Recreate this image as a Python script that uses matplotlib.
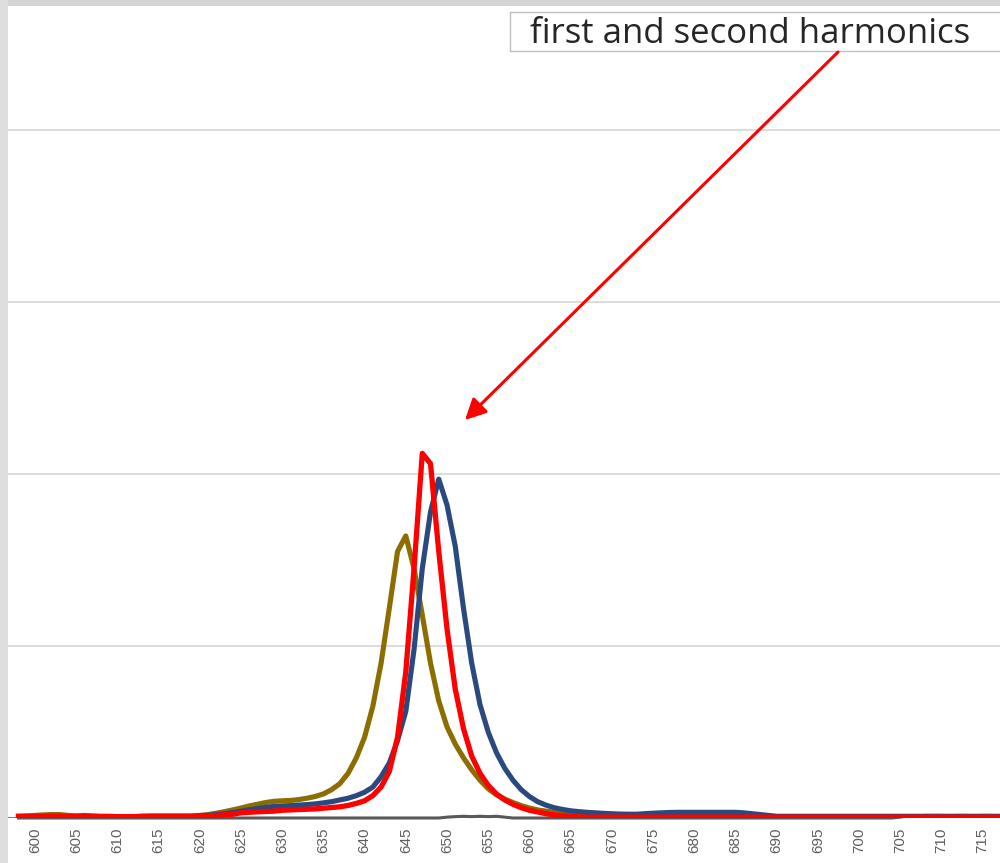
import matplotlib
matplotlib.use("Agg")
import matplotlib.pyplot as plt
from matplotlib.patches import Rectangle, FancyArrowPatch

# wavelength (nm), 1 nm steps
wavelength = list(range(598, 719))

# ---- series values (gridline units) ----
olive = [
    0.010, 0.012, 0.015, 0.018, 0.020, 0.020, 0.015, 0.012, 0.015, 0.012,   # 598-607
    0.008, 0.008, 0.008, 0.008, 0.008, 0.010, 0.012, 0.012, 0.012, 0.012,   # 608-617
    0.012, 0.012, 0.015, 0.020, 0.028, 0.037, 0.047, 0.058, 0.070, 0.080,   # 618-627
    0.090, 0.097, 0.100, 0.102, 0.107, 0.115, 0.125, 0.140, 0.165, 0.200,   # 628-637
    0.260, 0.350, 0.470, 0.650, 0.900, 1.220, 1.550, 1.640, 1.450, 1.180,   # 638-647
    0.900, 0.680, 0.530, 0.430, 0.350, 0.280, 0.220, 0.170, 0.135, 0.110,   # 648-657
    0.090, 0.072, 0.058, 0.047, 0.040, 0.033, 0.027, 0.022, 0.018, 0.015,   # 658-667
    0.010, 0.010, 0.010, 0.010, 0.010, 0.010, 0.010, 0.010, 0.010, 0.010,   # 668-677
    0.010, 0.010, 0.010, 0.010, 0.010, 0.010, 0.010, 0.010, 0.008, 0.008,   # 678-687
    0.008, 0.008, 0.008, 0.008, 0.008, 0.008, 0.008, 0.008, 0.008, 0.008,   # 688-697
    0.008, 0.008, 0.008, 0.008, 0.008, 0.008, 0.008, 0.008, 0.008, 0.008,   # 698-707
    0.008, 0.008, 0.008, 0.008, 0.008, 0.008, 0.008, 0.008, 0.008, 0.008,   # 708-717
    0.008,                                                                  # 718
]
blue = [
    0.010, 0.010, 0.010, 0.010, 0.010, 0.010, 0.010, 0.010, 0.010, 0.010,   # 598-607
    0.010, 0.010, 0.008, 0.008, 0.008, 0.010, 0.010, 0.010, 0.010, 0.010,   # 608-617
    0.010, 0.010, 0.012, 0.015, 0.020, 0.025, 0.032, 0.040, 0.048, 0.055,   # 618-627
    0.062, 0.067, 0.070, 0.072, 0.075, 0.078, 0.082, 0.088, 0.095, 0.105,   # 628-637
    0.115, 0.130, 0.150, 0.180, 0.240, 0.320, 0.450, 0.620, 0.980, 1.450,   # 638-647
    1.780, 1.970, 1.820, 1.580, 1.220, 0.900, 0.660, 0.500, 0.380, 0.290,   # 648-657
    0.220, 0.165, 0.125, 0.095, 0.075, 0.060, 0.050, 0.042, 0.037, 0.033,   # 658-667
    0.030, 0.027, 0.025, 0.023, 0.022, 0.022, 0.025, 0.028, 0.030, 0.032,   # 668-677
    0.033, 0.033, 0.033, 0.033, 0.033, 0.033, 0.033, 0.033, 0.030, 0.025,   # 678-687
    0.020, 0.015, 0.010, 0.010, 0.010, 0.010, 0.010, 0.010, 0.010, 0.010,   # 688-697
    0.010, 0.010, 0.010, 0.010, 0.010, 0.010, 0.010, 0.010, 0.010, 0.010,   # 698-707
    0.010, 0.010, 0.010, 0.010, 0.010, 0.010, 0.010, 0.010, 0.010, 0.010,   # 708-717
    0.010,                                                                  # 718
]
red = [
    0.008, 0.008, 0.008, 0.008, 0.008, 0.008, 0.008, 0.008, 0.008, 0.008,   # 598-607
    0.008, 0.008, 0.008, 0.008, 0.008, 0.008, 0.008, 0.008, 0.008, 0.008,   # 608-617
    0.008, 0.008, 0.010, 0.012, 0.015, 0.018, 0.022, 0.030, 0.033, 0.036,   # 618-627
    0.038, 0.040, 0.045, 0.047, 0.049, 0.051, 0.053, 0.057, 0.061, 0.065,   # 628-637
    0.073, 0.085, 0.100, 0.130, 0.180, 0.270, 0.470, 0.850, 1.450, 2.120,   # 638-647
    2.060, 1.550, 1.100, 0.750, 0.520, 0.360, 0.260, 0.190, 0.140, 0.105,   # 648-657
    0.080, 0.060, 0.045, 0.035, 0.025, 0.018, 0.013, 0.010, 0.006, 0.005,   # 658-667
    0.005, 0.005, 0.005, 0.005, 0.005, 0.005, 0.005, 0.005, 0.005, 0.005,   # 668-677
    0.005, 0.005, 0.005, 0.005, 0.005, 0.005, 0.005, 0.005, 0.005, 0.005,   # 678-687
    0.005, 0.005, 0.005, 0.005, 0.005, 0.005, 0.005, 0.005, 0.005, 0.005,   # 688-697
    0.005, 0.005, 0.005, 0.005, 0.005, 0.005, 0.005, 0.005, 0.005, 0.005,   # 698-707
    0.005, 0.005, 0.005, 0.005, 0.005, 0.005, 0.005, 0.005, 0.005, 0.005,   # 708-717
    0.005,                                                                  # 718
]
gray = [
    0.000, 0.000, 0.000, 0.000, 0.000, 0.000, 0.000, 0.000, 0.000, 0.000,   # 598-607
    0.000, 0.000, 0.000, 0.000, 0.000, 0.000, 0.000, 0.000, 0.000, 0.000,   # 608-617
    0.000, 0.000, 0.000, 0.000, 0.000, 0.000, 0.000, 0.000, 0.000, 0.000,   # 618-627
    0.000, 0.000, 0.000, 0.000, 0.000, 0.000, 0.000, 0.000, 0.000, 0.000,   # 628-637
    0.000, 0.000, 0.000, 0.000, 0.000, 0.000, 0.000, 0.000, 0.000, 0.000,   # 638-647
    0.000, 0.000, 0.005, 0.008, 0.010, 0.008, 0.010, 0.008, 0.010, 0.005,   # 648-657
    0.000, 0.000, 0.000, 0.000, 0.000, 0.000, 0.000, 0.000, 0.000, 0.000,   # 658-667
    0.000, 0.000, 0.000, 0.000, 0.000, 0.000, 0.000, 0.000, 0.000, 0.000,   # 668-677
    0.000, 0.000, 0.000, 0.000, 0.000, 0.000, 0.000, 0.000, 0.000, 0.000,   # 678-687
    0.000, 0.000, 0.000, 0.000, 0.000, 0.000, 0.000, 0.000, 0.000, 0.000,   # 688-697
    0.000, 0.000, 0.000, 0.000, 0.000, 0.000, 0.000, 0.005, 0.012, 0.010,   # 698-707
    0.015, 0.015, 0.015, 0.012, 0.015, 0.015, 0.012, 0.015, 0.015, 0.012,   # 708-717
    0.012,                                                                  # 718
]

tick_values = list(range(600, 716, 5))
tick_labels = [str(v) for v in tick_values]
grid_levels = [1, 2, 3, 4]
annotation_text = "first and second harmonics"

# ---- figure ----
W, H = 1000, 863
fig = plt.figure(figsize=(W / 100, H / 100), dpi=100)
fig.patch.set_facecolor("white")

def fx(px):
    return px / W

def fy(py):
    return 1 - py / H

# gray screenshot border
fig.add_artist(Rectangle((0, fy(6)), 1, 6 / H, transform=fig.transFigure,
                         facecolor="#d4d4d4", edgecolor="none", zorder=0))
fig.add_artist(Rectangle((0, 0), fx(8), 1, transform=fig.transFigure,
                         facecolor="#dedede", edgecolor="none", zorder=0))

ax = fig.add_axes([fx(8), 1 - 818 / H, 1 - fx(8), (818 - 6) / H])
ax.set_facecolor("white")
px_per_nm = 8.24
ax.set_xlim(600 + (8 - 35) / px_per_nm, 600 + (1000 - 35) / px_per_nm)
ax.set_ylim(0, (818 - 6) / 172)

ax.set_yticks(grid_levels)
ax.set_yticklabels([])
ax.tick_params(axis="y", length=0)
ax.grid(axis="y", color="#d9d9d9", linewidth=1.3)
ax.set_axisbelow(True)
for s in ax.spines.values():
    s.set_visible(False)

ax.set_xticks(tick_values)
ax.set_xticklabels(tick_labels, rotation=90,
                   fontfamily=["Liberation Sans Narrow", "Liberation Sans", "DejaVu Sans"],
                   fontsize=11, color="#5f5f5f")
ax.tick_params(axis="x", length=0, pad=7)

ax.axhline(0, color="#7f7f7f", linewidth=1.5, zorder=1)
ax.plot(wavelength, gray, color="#595959", linewidth=2.2, zorder=2, clip_on=False)
ax.plot(wavelength, olive, color="#8c6d00", linewidth=3.7, zorder=3,
        solid_joinstyle="round")
ax.plot(wavelength, blue, color="#2a4a7f", linewidth=3.7, zorder=4,
        solid_joinstyle="round")
ax.plot(wavelength, red, color="#ff0000", linewidth=3.8, zorder=5,
        solid_joinstyle="round")

# annotation box
fig.add_artist(Rectangle((fx(510), fy(51)), fx(520), 39 / H, transform=fig.transFigure,
                         facecolor="white", edgecolor="#bfbfbf", linewidth=1.0,
                         zorder=10, clip_on=False))
fig.text(fx(530), fy(43), annotation_text, fontsize=25, fontfamily="Open Sans",
         color="#262626", va="baseline", ha="left", zorder=11)

arrow = FancyArrowPatch(posA=(fx(838), fy(52)), posB=(fx(465), fy(420)),
                        transform=fig.transFigure,
                        arrowstyle="-|>,head_length=0.9,head_width=0.45",
                        mutation_scale=14, color="#ff0000", linewidth=2.2,
                        shrinkA=0, shrinkB=0, zorder=12)
fig.add_artist(arrow)

fig.savefig("out.png", dpi=100)
